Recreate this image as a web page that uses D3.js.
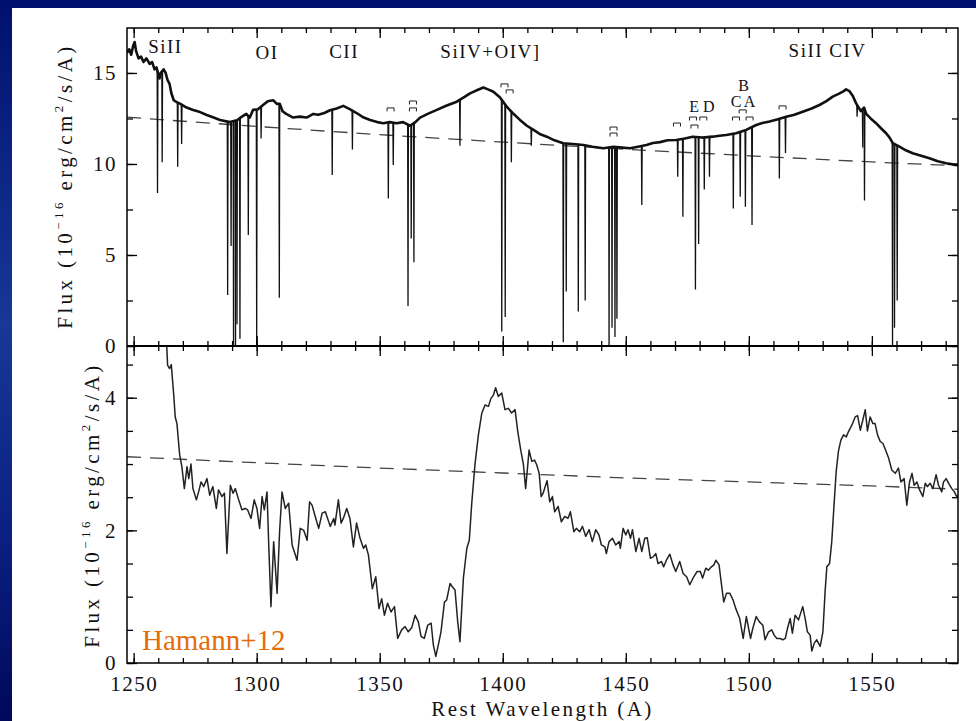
<!DOCTYPE html>
<html>
<head>
<meta charset="utf-8">
<script src="https://cdn.jsdelivr.net/npm/d3@7"></script>
<style>
  body { margin: 0; overflow: hidden; background: #001070; }
  text { font-family: "Liberation Serif", "DejaVu Serif", serif; fill: #111; }
</style>
</head>
<body>
<svg id="chart" width="976" height="721"></svg>
<script>

// ---------- data ----------

// upper panel: emission envelope of the high-resolution spectrum [wavelength, flux]
const topEmission = [
  [1247.3,16.1],[1248.2,16.3],[1249.0,16.0],[1249.8,16.5],[1250.4,16.7],[1251.0,16.2],[1252.0,15.8],
  [1253.0,15.9],[1254.0,15.6],[1255.2,15.8],[1256.5,15.5],[1257.5,15.6],[1258.5,15.2],[1259.3,15.3],
  [1260.5,14.7],[1261.0,15.0],[1262.2,15.2],[1263.0,15.0],[1263.8,14.6],[1264.6,14.4],[1265.3,13.9],
  [1266.3,13.5],[1267.5,13.4],[1269.0,13.3],[1271.5,13.1],[1274.2,12.97],[1277.0,12.85],[1279.7,12.69],
  [1282.5,12.55],[1285.1,12.42],[1289.1,12.3],[1292.0,12.4],[1294.0,12.6],[1295.8,12.75],[1297.2,12.55],
  [1298.5,12.97],[1300.5,13.0],[1302.6,13.24],[1304.5,13.45],[1306.7,13.5],[1308.2,13.3],[1309.4,13.3],
  [1310.5,12.9],[1312.0,12.75],[1314.8,12.55],[1317.5,12.6],[1320.3,12.55],[1323.0,12.75],[1325.0,12.7],
  [1327.5,12.8],[1329.8,12.95],[1332.5,13.05],[1335.2,13.19],[1338.0,13.0],[1340.6,12.8],[1343.5,12.55],
  [1346.1,12.42],[1349.0,12.3],[1351.5,12.24],[1354.0,12.3],[1356.9,12.24],[1359.5,12.3],[1362.3,12.1],
  [1364.5,12.3],[1366.4,12.55],[1369.5,12.75],[1373.2,12.97],[1377.0,13.2],[1381.3,13.42],[1384.0,13.65],
  [1386.7,13.88],[1389.5,14.05],[1392.1,14.2],[1394.0,14.1],[1396.2,13.97],[1398.9,13.65],[1401.6,13.15],
  [1404.0,12.8],[1407.0,12.42],[1409.8,12.1],[1412.5,11.87],[1415.0,11.65],[1417.9,11.5],[1421.0,11.3],
  [1424.6,11.14],[1428.5,11.1],[1432.8,11.04],[1436.5,10.95],[1440.9,10.86],[1445.0,10.95],[1448.5,10.9],
  [1451.7,10.86],[1455.0,10.95],[1458.4,11.04],[1461.0,11.15],[1463.9,11.2],[1467.0,11.3],[1470.5,11.32],
  [1474.0,11.4],[1477.2,11.5],[1481.0,11.45],[1485.3,11.5],[1488.0,11.55],[1490.8,11.59],[1494.8,11.69],
  [1498.9,11.87],[1503.0,12.14],[1505.5,12.25],[1508.4,12.33],[1511.5,12.45],[1515.2,12.6],[1518.5,12.7],
  [1521.9,12.87],[1525.5,13.05],[1528.7,13.24],[1531.5,13.45],[1534.1,13.7],[1536.5,13.85],[1538.2,13.97],
  [1539.5,14.1],[1540.9,14.0],[1542.2,13.75],[1543.6,13.33],[1545.5,12.9],[1546.8,13.1],[1547.7,12.75],
  [1549.5,12.5],[1551.7,12.24],[1553.8,11.95],[1555.8,11.69],[1557.2,11.45],[1558.5,11.14],[1561.2,10.95],
  [1563.8,10.75],[1566.6,10.59],[1570.0,10.45],[1573.4,10.31],[1576.8,10.15],[1580.2,10.04],[1582.8,9.98],
  [1585.0,9.95]
];

// upper panel: narrow absorption lines [wavelength, minimum flux]
const topAbsorption = [
  [1259.7,8.4],[1261.6,10.1],[1267.9,9.85],[1269.5,11.1],[1288.2,2.8],[1289.6,5.5],[1290.6,0],[1291.4,0],
  [1292.0,1.2],[1293.2,0.4],[1296.6,6.1],[1300.0,0],[1301.8,11.4],[1309.2,2.65],[1330.7,9.4],[1338.9,10.8],
  [1353.5,8.1],[1355.5,9.95],[1361.5,2.2],[1362.8,5.9],[1363.9,4.6],[1382.6,11.0],[1399.6,0.8],[1401.0,1.6],
  [1403.5,10.1],[1411.6,11.0],[1424.6,0.2],[1425.8,3.0],[1430.7,1.9],[1433.5,2.5],[1443.2,0],[1444.4,1.0],
  [1445.6,0.5],[1446.4,1.5],[1456.5,7.75],[1471.1,9.3],[1473.2,7.1],[1478.3,3.1],[1479.6,5.6],[1481.9,8.6],
  [1484.0,9.3],[1493.7,7.55],[1496.5,8.2],[1498.6,7.65],[1501.3,6.65],[1512.4,9.2],[1514.9,10.6],
  [1544.0,12.6],[1546.3,10.9],[1547.0,8.0],[1558.4,0],[1559.2,1.0],[1560.3,2.5]
];

// upper panel: continuum fit (dashed)
const topContinuum = [[1247.3,12.57],[1300,12.06],[1350,11.61],[1400,11.2],[1450,10.81],[1500,10.45],[1550,10.11],[1585,9.9]];

// upper panel: line identifications (flux = text baseline)
const ionLabels = [
  {name: "SiII", wave: 1262.9, flux: 16.1},
  {name: "OI", wave: 1304.2, flux: 15.77},
  {name: "CII", wave: 1335.5, flux: 15.83},
  {name: "SiIV+OIV]", wave: 1395.0, flux: 15.83},
  {name: "SiII CIV", wave: 1532.0, flux: 15.88}
];

// upper panel: doublet markers and system letters
const doubletMarks = [
  [1354.4,13.08],[1363.5,13.46],[1363.5,13.08],[1400.7,14.4],[1402.8,14.07],[1445.0,12.03],[1445.0,11.7],
  [1470.8,12.25],[1477.3,12.58],[1477.9,12.14],[1481.5,12.58],[1494.8,12.58],[1497.5,12.97],[1500.3,12.58],
  [1513.7,13.19]
];
const systemLetters = [
  {name: "E", wave: 1477.8, flux: 12.85},
  {name: "D", wave: 1483.7, flux: 12.85},
  {name: "C", wave: 1494.8, flux: 13.15},
  {name: "A", wave: 1500.3, flux: 13.15},
  {name: "B", wave: 1497.9, flux: 14.02}
];

// lower panel: smoothed spectrum [wavelength, flux]
const lowSpectrum = [
  [1263.3,4.9],[1263.8,4.49],[1264.6,4.44],[1265.3,4.5],[1266.3,4.04],[1266.9,3.71],[1267.6,3.61],[1268.7,3.14],
  [1269.6,2.96],[1270.6,2.63],[1271.7,2.96],[1272.4,2.78],[1273.3,3.0],[1274.1,2.63],[1275.5,2.46],[1276.4,2.58],
  [1277.4,2.73],[1278.5,2.66],[1279.8,2.78],[1280.9,2.53],[1282.2,2.66],[1283.6,2.33],[1284.5,2.61],[1285.9,2.51],
  [1286.9,2.56],[1287.9,1.65],[1289.3,2.68],[1290.4,2.56],[1291.3,2.63],[1292.7,2.46],[1294.0,2.31],[1295.4,2.33],
  [1296.3,2.31],[1297.7,2.18],[1299.0,2.46],[1300.1,2.33],[1301.2,2.03],[1302.2,2.51],[1303.1,2.31],[1304.2,2.58],
  [1304.9,1.78],[1305.8,0.85],[1306.9,1.83],[1308.3,1.05],[1309.3,1.98],[1310.3,2.58],[1311.6,2.33],[1313.0,2.41],
  [1314.4,1.78],[1316.4,1.55],[1317.7,2.03],[1319.1,2.0],[1320.5,1.85],[1321.5,2.43],[1322.5,2.38],[1323.8,2.21],
  [1325.2,2.03],[1326.6,2.26],[1327.9,2.28],[1329.9,2.06],[1331.3,2.18],[1331.8,2.08],[1333.2,2.46],[1334.3,2.11],
  [1335.2,2.18],[1336.6,2.33],[1337.9,2.18],[1339.3,1.75],[1340.6,2.11],[1342.0,1.88],[1343.4,1.73],[1344.3,1.78],
  [1345.4,1.63],[1347.0,1.12],[1348.4,1.3],[1349.7,0.82],[1350.8,0.97],[1351.9,0.72],[1353.2,0.9],[1354.6,0.77],
  [1356.0,0.85],[1357.3,0.37],[1358.9,0.5],[1360.3,0.55],[1361.6,0.47],[1363.0,0.53],[1364.4,0.72],[1365.7,0.62],
  [1366.8,0.4],[1368.1,0.37],[1369.5,0.57],[1370.9,0.6],[1371.8,0.27],[1372.8,0.1],[1373.8,0.27],[1374.9,0.47],
  [1376.3,0.92],[1377.2,0.95],[1378.6,1.2],[1379.5,1.15],[1380.6,1.1],[1381.7,0.62],[1382.6,0.32],[1384.0,1.28],
  [1385.4,1.73],[1386.4,1.85],[1387.4,2.41],[1388.7,2.99],[1390.1,3.44],[1391.5,3.77],[1392.8,3.89],[1394.2,3.87],
  [1395.2,3.99],[1396.2,4.04],[1397.1,4.15],[1398.2,4.02],[1399.6,4.07],[1400.9,3.82],[1402.3,3.84],[1403.6,3.77],
  [1405.0,3.82],[1406.1,3.49],[1407.4,3.19],[1408.4,2.99],[1409.3,2.63],[1410.7,3.21],[1411.8,3.04],[1412.9,3.06],
  [1413.8,2.99],[1414.8,2.86],[1415.6,2.51],[1416.4,2.56],[1418.0,2.75],[1419.1,2.43],[1420.2,2.51],[1421.1,2.28],
  [1422.5,2.36],[1423.8,2.13],[1425.2,2.21],[1426.5,2.18],[1427.5,2.28],[1428.9,1.98],[1429.9,2.03],[1431.3,1.98],
  [1432.4,2.06],[1433.7,1.91],[1435.1,2.01],[1436.4,1.83],[1437.8,2.01],[1439.1,1.93],[1440.1,1.78],[1441.5,1.75],
  [1442.1,1.65],[1443.2,1.83],[1444.6,1.88],[1445.9,1.78],[1447.3,1.83],[1447.8,1.73],[1448.9,2.03],[1450.0,1.93],
  [1450.9,2.01],[1451.9,1.88],[1452.7,2.01],[1454.1,1.68],[1455.4,1.88],[1456.5,1.68],[1457.7,1.88],[1458.7,1.89],
  [1460.0,1.58],[1461.1,1.6],[1462.2,1.65],[1463.1,1.5],[1464.5,1.53],[1465.4,1.45],[1466.5,1.55],[1467.9,1.64],
  [1469.2,1.48],[1470.3,1.38],[1471.9,1.53],[1473.3,1.35],[1474.7,1.3],[1476.0,1.18],[1477.6,1.3],[1479.0,1.38],
  [1480.3,1.38],[1481.2,1.28],[1482.5,1.43],[1483.5,1.4],[1484.8,1.45],[1485.8,1.48],[1486.6,1.55],[1487.9,1.48],
  [1488.9,1.18],[1489.8,0.92],[1490.9,1.05],[1492.3,1.05],[1493.6,0.95],[1494.7,0.82],[1496.3,0.67],[1497.7,0.37],
  [1499.0,0.7],[1500.7,0.37],[1501.6,0.52],[1503.0,0.7],[1504.3,0.62],[1505.7,0.57],[1506.6,0.35],[1508.0,0.47],
  [1509.3,0.5],[1510.3,0.42],[1511.4,0.37],[1512.7,0.37],[1513.8,0.35],[1514.8,0.37],[1515.7,0.52],[1516.8,0.67],
  [1517.7,0.45],[1518.8,0.72],[1520.2,0.65],[1521.9,0.85],[1522.9,0.67],[1523.8,0.47],[1524.9,0.42],[1525.6,0.18],
  [1526.6,0.3],[1527.6,0.35],[1529.0,0.25],[1530.1,0.47],[1531.0,1.08],[1531.7,1.45],[1532.8,1.5],[1533.7,1.83],
  [1534.7,2.43],[1535.5,2.89],[1536.4,3.19],[1537.4,3.36],[1538.5,3.44],[1539.6,3.41],[1540.5,3.49],[1541.9,3.59],
  [1543.2,3.71],[1544.2,3.73],[1545.3,3.51],[1546.3,3.66],[1547.3,3.82],[1548.2,3.5],[1549.3,3.71],[1550.4,3.61],
  [1551.3,3.61],[1552.3,3.44],[1553.4,3.34],[1554.5,3.31],[1555.8,3.19],[1556.8,3.09],[1558.1,2.91],[1559.5,2.86],
  [1560.8,2.94],[1561.8,2.73],[1563.1,2.78],[1564.2,2.38],[1565.3,2.73],[1566.3,2.86],[1567.2,2.68],[1568.3,2.73],
  [1569.4,2.61],[1570.7,2.51],[1571.7,2.71],[1572.6,2.66],[1573.7,2.71],[1574.8,2.63],[1576.1,2.84],[1577.1,2.68],
  [1578.4,2.58],[1579.1,2.73],[1580.2,2.78],[1581.2,2.71],[1582.5,2.63],[1583.5,2.58],[1584.5,2.51],[1585.9,2.53]
];

// lower panel: continuum fit (dashed)
const lowContinuum = [[1247.3,3.11],[1300,3.02],[1350,2.94],[1400,2.865],[1450,2.79],[1500,2.73],[1550,2.67],[1585,2.62]];

// axes
const waveMajor = [1250, 1300, 1350, 1400, 1450, 1500, 1550];
const waveMinor = d3.range(1250, 1590, 10);
const topFluxMajor = [0, 5, 10, 15];
const topFluxMinor = d3.range(0, 17.5, 2.5);
const lowFluxMajor = [0, 2, 4];
const lowFluxMinor = d3.range(0, 4.75, 0.5);

const yLabel = ["Flux (10", "\u221216", " erg/cm", "2", "/s/A)"];
const xLabel = "Rest Wavelength (A)";
const credit = "Hamann+12";

// ---------- layout ----------

const W = 976, H = 721;
const plot = {left: 127, right: 958, top: 28, mid: 346, bottom: 663};

const svg = d3.select("#chart");

const defs = svg.append("defs");
const grad = defs.append("linearGradient").attr("id", "slideBg").attr("x1", 0).attr("y1", 0).attr("x2", 0).attr("y2", 1);
grad.append("stop").attr("offset", "0%").attr("stop-color", "#00106e");
grad.append("stop").attr("offset", "45%").attr("stop-color", "#173896");
grad.append("stop").attr("offset", "75%").attr("stop-color", "#0a1f80");
grad.append("stop").attr("offset", "100%").attr("stop-color", "#00085a");

svg.append("rect").attr("width", W).attr("height", H).attr("fill", "url(#slideBg)");
svg.append("rect").attr("x", 0).attr("y", 0).attr("width", W).attr("height", 8).attr("fill", "#00106e");
svg.append("rect").attr("x", 12).attr("y", 8).attr("width", W - 12).attr("height", H - 8).attr("fill", "#fff");

const x = d3.scaleLinear().domain([1247.3, 1585]).range([plot.left, plot.right]);
const yTop = d3.scaleLinear().domain([0, 17.47]).range([plot.mid, plot.top]);
const yLow = d3.scaleLinear().domain([0, 4.78]).range([plot.bottom, plot.mid]);

defs.append("clipPath").attr("id", "clipTop").append("rect")
  .attr("x", plot.left).attr("y", plot.top).attr("width", plot.right - plot.left).attr("height", plot.mid - plot.top);
defs.append("clipPath").attr("id", "clipLow").append("rect")
  .attr("x", plot.left).attr("y", plot.mid).attr("width", plot.right - plot.left).attr("height", plot.bottom - plot.mid);

// ---------- curves ----------

const contAt = (w) => {
  const i = d3.bisector(d => d[0]).right(topEmission, w);
  const a = topEmission[Math.max(0, i - 1)], b = topEmission[Math.min(topEmission.length - 1, i)];
  if (a === b) return a[1];
  return a[1] + (b[1] - a[1]) * (w - a[0]) / (b[0] - a[0]);
};

const lineTop = d3.line().x(d => x(d[0])).y(d => yTop(d[1]));
const lineLow = d3.line().x(d => x(d[0])).y(d => yLow(d[1]));

const gTop = svg.append("g").attr("clip-path", "url(#clipTop)");
gTop.append("path").datum(topContinuum).attr("d", lineTop)
  .attr("fill", "none").attr("stroke", "#444").attr("stroke-width", 1.3).attr("stroke-dasharray", "14,9");
gTop.append("path").datum(topEmission).attr("d", lineTop)
  .attr("fill", "none").attr("stroke", "#111").attr("stroke-width", 2.6).attr("stroke-linejoin", "round");
gTop.append("g").selectAll("path").data(topAbsorption).join("path")
  .attr("d", ([w, f]) => lineTop([[w - 0.15, contAt(w - 0.15)], [w, f], [w + 0.15, contAt(w + 0.15)]]))
  .attr("fill", "none").attr("stroke", "#111").attr("stroke-width", 1.3);

const gLow = svg.append("g").attr("clip-path", "url(#clipLow)");
gLow.append("path").datum(lowContinuum).attr("d", lineLow)
  .attr("fill", "none").attr("stroke", "#444").attr("stroke-width", 1.3).attr("stroke-dasharray", "14,9");
gLow.append("path").datum(lowSpectrum).attr("d", lineLow)
  .attr("fill", "none").attr("stroke", "#222").attr("stroke-width", 1.5).attr("stroke-linejoin", "round");

// ---------- annotations ----------

svg.append("g").selectAll("text").data(ionLabels).join("text")
  .attr("x", d => x(d.wave)).attr("y", d => yTop(d.flux))
  .attr("text-anchor", "middle").attr("font-size", 19).attr("letter-spacing", 1.5)
  .text(d => d.name);

svg.append("g").selectAll("text").data(systemLetters).join("text")
  .attr("x", d => x(d.wave)).attr("y", d => yTop(d.flux))
  .attr("text-anchor", "middle").attr("font-size", 16)
  .text(d => d.name);

svg.append("g").selectAll("path").data(doubletMarks).join("path")
  .attr("d", d => {
    const cx = x(d[0]), cy = yTop(d[1]);
    return `M${cx - 3.5},${cy + 3.5}V${cy}H${cx + 3.5}V${cy + 3.5}`;
  })
  .attr("fill", "none").attr("stroke", "#222").attr("stroke-width", 1);

// ---------- axes ----------

const axisStyle = (g) => {
  g.select(".domain").remove();
  g.selectAll(".tick line").attr("stroke", "#000").attr("stroke-width", 1.3);
  g.selectAll(".tick text").attr("fill", "#111").attr("font-size", 21).attr("letter-spacing", 1.5)
    .attr("font-family", "Liberation Serif, DejaVu Serif, serif");
};

// top frame
svg.append("g").attr("transform", `translate(0,${plot.top})`)
  .call(d3.axisTop(x).tickValues(waveMinor).tickSize(-5).tickFormat("")).call(axisStyle);
svg.append("g").attr("transform", `translate(0,${plot.top})`)
  .call(d3.axisTop(x).tickValues(waveMajor).tickSize(-10).tickFormat("")).call(axisStyle);

// shared middle axis, ticks both ways
[d3.axisTop, d3.axisBottom].forEach(ax => {
  svg.append("g").attr("transform", `translate(0,${plot.mid})`)
    .call(ax(x).tickValues(waveMinor).tickSize(5).tickFormat("")).call(axisStyle);
  svg.append("g").attr("transform", `translate(0,${plot.mid})`)
    .call(ax(x).tickValues(waveMajor).tickSize(10).tickFormat("")).call(axisStyle);
});

// bottom axis with labels
svg.append("g").attr("transform", `translate(0,${plot.bottom})`)
  .call(d3.axisBottom(x).tickValues(waveMinor).tickSize(-5).tickFormat("")).call(axisStyle);
svg.append("g").attr("transform", `translate(0,${plot.bottom})`)
  .call(d3.axisBottom(x).tickValues(waveMajor).tickSize(-10).tickPadding(13).tickFormat(d3.format("d"))).call(axisStyle);

// left / right axes for both panels
[[yTop, topFluxMajor, topFluxMinor], [yLow, lowFluxMajor, lowFluxMinor]].forEach(([ys, major, minor]) => {
  svg.append("g").attr("transform", `translate(${plot.left},0)`)
    .call(d3.axisLeft(ys).tickValues(minor).tickSize(-6).tickFormat("")).call(axisStyle);
  svg.append("g").attr("transform", `translate(${plot.left},0)`)
    .call(d3.axisLeft(ys).tickValues(major).tickSize(-10).tickPadding(10).tickFormat(d3.format("d"))).call(axisStyle);
  svg.append("g").attr("transform", `translate(${plot.right},0)`)
    .call(d3.axisRight(ys).tickValues(minor).tickSize(-6).tickFormat("")).call(axisStyle);
  svg.append("g").attr("transform", `translate(${plot.right},0)`)
    .call(d3.axisRight(ys).tickValues(major).tickSize(-10).tickFormat("")).call(axisStyle);
});

// frame
svg.append("rect").attr("x", plot.left).attr("y", plot.top)
  .attr("width", plot.right - plot.left).attr("height", plot.bottom - plot.top)
  .attr("fill", "none").attr("stroke", "#000").attr("stroke-width", 1.5);
svg.append("line").attr("x1", plot.left).attr("x2", plot.right).attr("y1", plot.mid).attr("y2", plot.mid)
  .attr("stroke", "#000").attr("stroke-width", 2);

// ---------- axis titles ----------

function fitWidth(sel, target) {
  const n = sel.text().length;
  const len = sel.node().getComputedTextLength();
  sel.attr("letter-spacing", Math.max(0, (target - len) / (n - 1)));
}

function fluxLabel(cx, cy) {
  const t = svg.append("text")
    .attr("transform", `translate(${cx},${cy}) rotate(-90)`)
    .attr("text-anchor", "middle").attr("font-size", 21);
  t.append("tspan").text(yLabel[0]);
  t.append("tspan").attr("font-size", 13).attr("dy", -9).text(yLabel[1]);
  t.append("tspan").attr("dy", 9).text(yLabel[2]);
  t.append("tspan").attr("font-size", 13).attr("dy", -9).text(yLabel[3]);
  t.append("tspan").attr("dy", 9).text(yLabel[4]);
  fitWidth(t, 282);
}
fluxLabel(72, 186);
fluxLabel(99, 505);

const xl = svg.append("text").attr("x", (plot.left + plot.right) / 2).attr("y", 716)
  .attr("text-anchor", "middle").attr("font-size", 21).text(xLabel);
fitWidth(xl, 220);

svg.append("text").attr("x", 142).attr("y", 650)
  .attr("font-family", "Lato, 'Open Sans', sans-serif").attr("font-size", 29)
  .style("fill", "#e46c0a").text(credit);

</script>
</body>
</html>
